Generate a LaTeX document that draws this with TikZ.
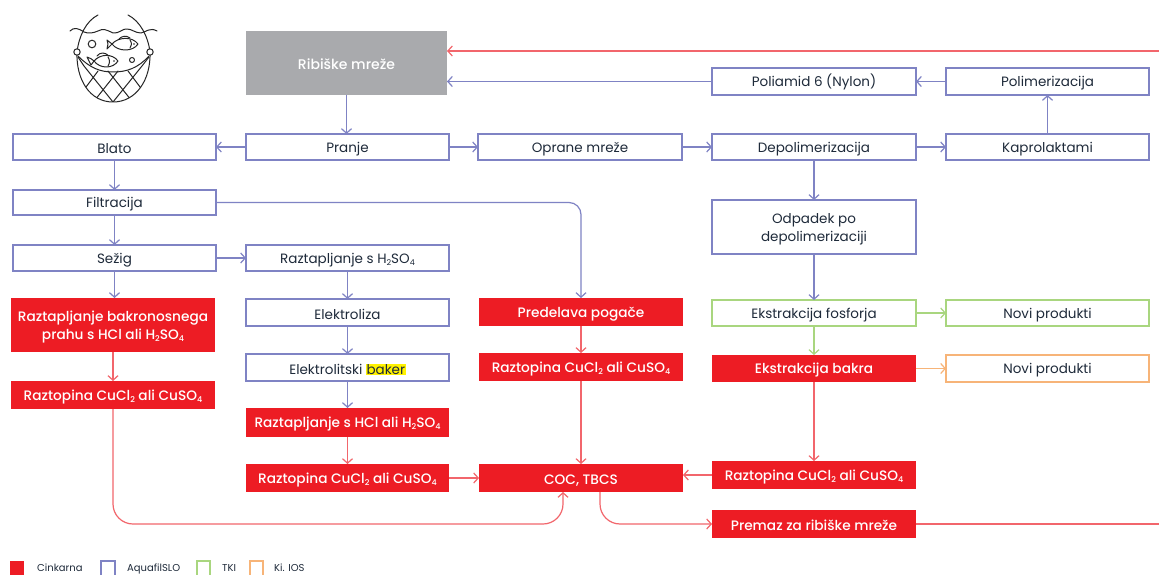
\documentclass[tikz,border=0pt]{standalone}
\usepackage{fontspec}
\setmainfont{Poppins}
\newfontfamily\medfont{Poppins Medium}
\usetikzlibrary{arrows.meta,calc}
\definecolor{cred}{HTML}{ED1C24}
\definecolor{cline}{HTML}{F2666C}
\definecolor{cblue}{HTML}{7F83C4}
\definecolor{cgreen}{HTML}{A9D67F}
\definecolor{corange}{HTML}{F7B478}
\definecolor{cgrey}{HTML}{A9AAAD}
\definecolor{ctext}{HTML}{1E2A3A}
\newcommand{\sbs}[1]{\raisebox{-0.28ex}{\fontsize{8}{8}\selectfont #1}}
\tikzset{
  base/.style={anchor=north west,inner sep=0pt,outer sep=0pt,align=center,font=\fontsize{13.5}{18}\selectfont,text=ctext},
  bluebox/.style={base,draw=cblue,line width=1.2pt,fill=white},
  greenbox/.style={base,draw=cgreen,line width=1.2pt,fill=white},
  orangebox/.style={base,draw=corange,line width=1.2pt,fill=white},
  redbox/.style={base,fill=cred,text=white,font=\fontsize{13.7}{18}\selectfont\medfont},
  greybox/.style={base,fill=cgrey,text=white,font=\fontsize{14}{18}\selectfont\medfont},
  tip/.style={-{Straight Barb[length=4.5pt,width=10pt,line width=1.2pt]}},
  bl/.style={tip,draw=cblue,line width=1.2pt},
  rl/.style={tip,draw=cline,line width=1.2pt},
  gl/.style={tip,draw=cgreen,line width=1.2pt},
  ol/.style={tip,draw=corange,line width=1.2pt},
  curve/.style={rounded corners=20pt},
  legtext/.style={inner sep=0pt,anchor=base west,font=\fontsize{10}{10}\selectfont,text=ctext},
  ink/.style={draw=black!85,line width=1pt,line cap=round,line join=round},
}
\begin{document}
\begin{tikzpicture}[x=1pt,y=-1pt]
\useasboundingbox (0,0) rectangle (1159,575);
\fill[white] (0,0) rectangle (1159,575);
% boxes
\newcommand{\bx}[7]{\node[#1,minimum width=#4-#3,minimum height=#6-#5] (#2) at (#3,#5) {\rule{0pt}{14pt}#7};}
\bx{greybox}{ribe}{246}{447}{31}{95}{Ribiške mreže}
\bx{bluebox}{nylon}{712}{916}{68}{95}{Poliamid 6 (Nylon)}
\bx{bluebox}{poli}{946}{1149}{68}{95}{Polimerizacija}
\bx{bluebox}{blato}{13}{216}{134}{160}{Blato}
\bx{bluebox}{pranje}{246}{449}{134}{160}{Pranje}
\bx{bluebox}{oprane}{478}{682}{134}{160}{Oprane mreže}
\bx{bluebox}{depol}{712}{916}{134}{160}{Depolimerizacija}
\bx{bluebox}{kapro}{946}{1149}{134}{160}{Kaprolaktami}
\bx{bluebox}{filt}{13}{216}{190}{215}{Filtracija}
\bx{bluebox}{sezig}{13}{216}{245}{271}{Sežig}
\bx{bluebox}{razh}{246}{449}{245}{271}{Raztapljanje s H\sbs{2}SO\sbs{4}}
\bx{bluebox}{odpad}{712}{916}{200}{254}{Odpadek po\\depolimerizaciji}
\bx{redbox}{razb}{11}{215}{298}{352}{Raztapljanje bakronosnega\\prahu s HCl ali H\sbs{2}SO\sbs{4}}
\bx{redbox}{rl1}{11}{215}{381}{409}{Raztopina CuCl\sbs{2} ali CuSO\sbs{4}}
\bx{bluebox}{elz}{246}{449}{299}{326}{Elektroliza}
\bx{bluebox}{elb}{246}{449}{354}{381}{Elektrolitski \fboxsep=0.5pt\colorbox{yellow}{baker}}
\bx{redbox}{rhcl}{246}{449}{408}{437}{Raztapljanje s HCl ali H\sbs{2}SO\sbs{4}}
\bx{redbox}{rl2}{246}{449}{464}{492}{Raztopina CuCl\sbs{2} ali CuSO\sbs{4}}
\bx{redbox}{pred}{479}{683}{298}{326}{Predelava pogače}
\bx{redbox}{rl3}{479}{683}{353}{381}{Raztopina CuCl\sbs{2} ali CuSO\sbs{4}}
\bx{redbox}{coc}{479}{683}{464}{492}{COC, TBCS}
\bx{redbox}{rl4}{712}{916}{461}{489}{Raztopina CuCl\sbs{2} ali CuSO\sbs{4}}
\bx{redbox}{prem}{712}{916}{510}{538}{Premaz za ribiške mreže}
\bx{greenbox}{efos}{712}{916}{300}{326}{Ekstrakcija fosforja}
\bx{greenbox}{nov1}{946}{1149}{300}{326}{Novi produkti}
\bx{redbox}{ebak}{712}{916}{355}{382}{Ekstrakcija bakra}
\bx{orangebox}{nov2}{946}{1149}{355}{382}{Novi produkti}
% free ends and entry points
\coordinate (topin) at (1159,51);
\coordinate (topout) at (447,51);
\coordinate (edge) at (1159,524);
\coordinate (cocin) at (563,492);
\coordinate (cocout) at (600,492);
% blue connectors
\draw[bl] (ribe.south) -- (ribe.south |- pranje.north);
\draw[bl] (nylon.west) -- (ribe.east |- nylon.west);
\draw[bl] (poli.west) -- (nylon.east);
\draw[bl] (kapro.north) -- (poli.south);
\draw[bl] (pranje.west) -- (blato.east);
\draw[bl] (pranje.east) -- (oprane.west);
\draw[bl] (oprane.east) -- (depol.west);
\draw[bl] (depol.east) -- (kapro.west);
\draw[bl] (blato.south) -- (filt.north);
\draw[bl] (filt.south) -- (sezig.north);
\draw[bl] (sezig.east) -- (razh.west);
\draw[bl] (sezig.south) -- (razb.north -| sezig.south);
\draw[bl] (razh.south) -- (elz.north);
\draw[bl] (elz.south) -- (elb.north);
\draw[bl] (elb.south) -- (rhcl.north);
\draw[bl] (depol.south) -- (odpad.north);
\draw[bl] (odpad.south) -- (efos.north);
\draw[bl,rounded corners=12pt] (filt.east) -| (pred.north);
% red connectors
\draw[rl] (topin) -- (topout);
\draw[rl] (razb.south) -- (rl1.north);
\draw[rl] (rhcl.south) -- (rl2.north);
\draw[rl] (rl2.east) -- (coc.west);
\draw[rl] (pred.south) -- (rl3.north);
\draw[rl] (rl3.south) -- (coc.north);
\draw[rl] (ebak.south) -- (rl4.north);
\draw[rl] (rl4.west) -- (coc.east |- rl4.west);
\draw[rl,curve] (rl1.south) -- ++(0,115) -| (cocin);
\draw[rl,curve] (cocout) |- (prem.west);
\draw[draw=cline,line width=1.2pt] (prem.east) -- (edge);
% green and orange
\draw[gl] (efos.east) -- (nov1.west);
\draw[gl] (efos.south) -- (ebak.north);
\draw[ol] (ebak.east) -- (nov2.west);
% legend
\fill[cred] (10,561) rectangle (24,576);
\draw[cblue,line width=1.2pt] (101,561) rectangle (115,576);
\draw[cgreen,line width=1.2pt] (197,561) rectangle (210,576);
\draw[corange,line width=1.2pt] (250,561) rectangle (263,576);
\node[legtext] (lg1) at (37,571.5) {Cinkarna};
\node[legtext] (lg2) at (127,571.5) {AquafilSLO};
\node[legtext] (lg3) at (222,571.5) {TKI};
\node[legtext] (lg4) at (274,571.5) {Ki. IOS};
% net icon
\draw[ink] (98,15) .. controls (86,21) and (79,36) .. (77,52) .. controls (76,80) and (90,102) .. (113,102) .. controls (136,102) and (151,80) .. (150,52) .. controls (148,36) and (140,21) .. (128,15);
\draw[ink] (70,31) .. controls (74,27) and (78,28) .. (84,32) .. controls (89,34) and (93,33) .. (98,31) .. controls (103,28) and (107,30) .. (113,33) .. controls (119,34) and (123,28) .. (127,29) .. controls (132,29) and (135,33) .. (141,33) .. controls (146,32) and (150,27) .. (157,31);
\draw[ink,fill=white] (77,52) circle (3.2);
\draw[ink,fill=white] (150,52) circle (3.2);
\draw[ink] (92,44) circle (3.8);
\draw[ink] (132,60) circle (2.5);
\draw[ink] (78,56) .. controls (90,68) and (100,72) .. (113,72) .. controls (127,72) and (138,68) .. (149,56);
% fish
\draw[ink] (112,44) .. controls (118,37) and (132,36) .. (138,44) .. controls (133,52) and (118,52) .. (112,44) -- (107,49) -- (108,44) -- (107,40) -- cycle;
\draw[ink] (119,39) .. controls (122,36) and (126,35) .. (130,38);
\draw[ink] (130,40) .. controls (132,43) and (132,46) .. (130,48);
\fill[black!85] (134,44) circle (0.9);
\draw[ink,fill=white] (94,61) .. controls (100,54) and (112,53) .. (118,61) .. controls (113,69) and (100,69) .. (94,61) -- (91,65) .. controls (90,62) and (88,60) .. (87,57) .. controls (90,58) and (92,59) .. (94,61);
\draw[ink] (97,56) .. controls (100,52) and (105,52) .. (109,56);
\draw[ink] (108,57) .. controls (110,60) and (110,63) .. (108,66);
\fill[black!85] (114,61) circle (0.9);
% lattice
\begin{scope}
\clip (77,52) .. controls (76,80) and (90,102) .. (113,102) .. controls (136,102) and (151,80) .. (150,52) -- cycle;
\draw[ink] (78,57) -- (84,66) -- (113,102) (108,71) -- (135,105) (128,71) -- (146,95) (149,57) -- (142,66) -- (113,102) (118,71) -- (91,105) (98,71) -- (80,95);
\end{scope}
\end{tikzpicture}
\end{document}
